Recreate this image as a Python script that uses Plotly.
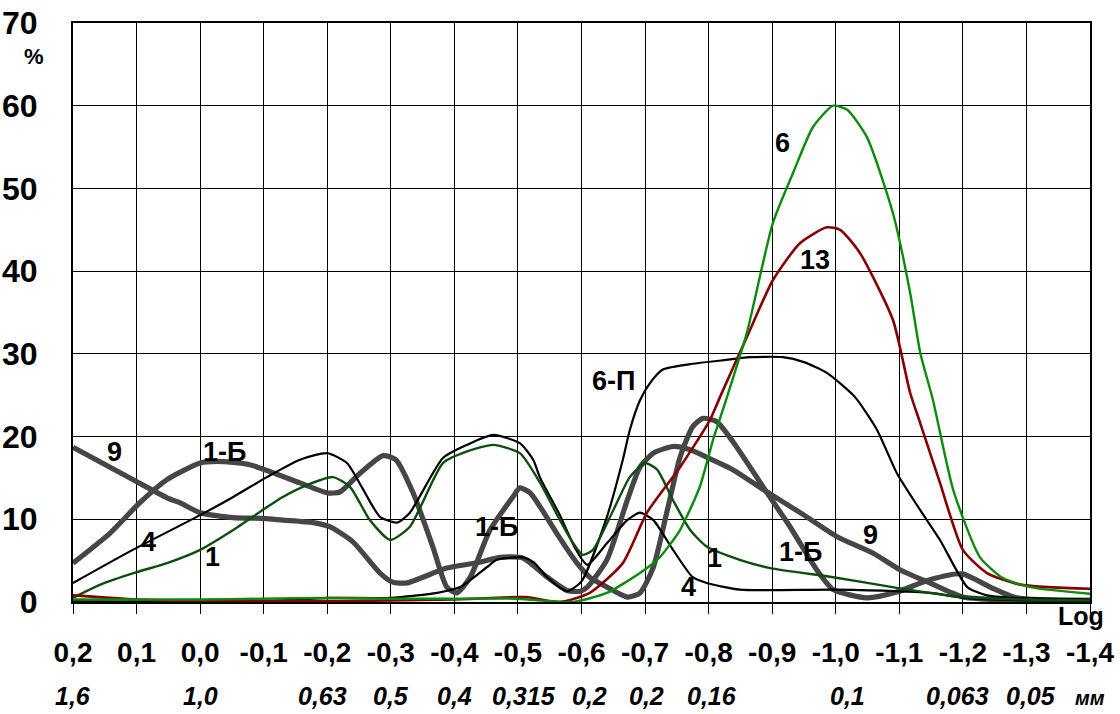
import plotly.graph_objects as go

# ---------------- data ----------------
log_ticks = [0.2, 0.1, 0.0, -0.1, -0.2, -0.3, -0.4, -0.5, -0.6, -0.7, -0.8, -0.9, -1.0, -1.1, -1.2, -1.3, -1.4]
log_labels = ["0,2", "0,1", "0,0", "-0,1", "-0,2", "-0,3", "-0,4", "-0,5", "-0,6", "-0,7", "-0,8",
              "-0,9", "-1,0", "-1,1", "-1,2", "-1,3", "-1,4"]
mm_pos = [0.2, 0.0, -0.193, -0.3, -0.4, -0.51, -0.613, -0.703, -0.805, -1.018, -1.192, -1.307]
mm_labels = ["1,6", "1,0", "0,63", "0,5", "0,4", "0,315", "0,2", "0,2", "0,16", "0,1", "0,063", "0,05"]
y_ticks = [0, 10, 20, 30, 40, 50, 60, 70]

x_9 = [0.2, 0.106, 0.052, 0.032, 0.0, -0.052, -0.1, -0.13, -0.178, -0.204, -0.24, -0.283, -0.303, -0.325,
       -0.388, -0.44, -0.472, -0.508, -0.546, -0.577, -0.598, -0.609, -0.64, -0.672, -0.692, -0.713, -0.744,
       -0.771, -0.797, -0.838, -0.892, -0.944, -1.002, -1.059, -1.101, -1.148, -1.2, -1.285, -1.4]
y_9 = [18.7, 14.8, 12.6, 12.0, 10.8, 10.2, 10.1, 9.9, 9.6, 9.1, 7.3, 3.5, 2.4, 2.3,
       4.1, 4.8, 5.4, 5.3, 3.0, 1.4, 1.3, 1.8, 5.1, 12.3, 16.3, 18.0, 18.8,
       18.4, 17.5, 16.0, 13.3, 10.8, 7.9, 5.9, 3.9, 2.3, 0.6, 0.2, 0.2]

x_1b = [0.2, 0.142, 0.095, 0.052, 0.0, -0.027, -0.078, -0.157, -0.2, -0.22, -0.252, -0.288, -0.308, -0.335,
        -0.366, -0.388, -0.404, -0.425, -0.456, -0.492, -0.503, -0.519, -0.535, -0.561, -0.593, -0.613, -0.64,
        -0.672, -0.692, -0.713, -0.735, -0.755, -0.775, -0.791, -0.813, -0.838, -0.892, -0.928, -0.97, -0.996,
        -1.049, -1.096, -1.148, -1.199, -1.243, -1.285, -1.4]
y_1b = [4.7, 8.3, 12.0, 14.8, 16.8, 17.0, 16.6, 14.4, 13.2, 13.3, 15.6, 17.7, 17.2, 13.2,
        6.7, 1.8, 1.1, 3.0, 8.7, 12.7, 13.8, 13.2, 11.5, 8.3, 4.7, 3.0, 1.8,
        0.6, 1.1, 4.2, 11.1, 17.5, 21.2, 22.2, 21.8, 19.4, 13.2, 9.1, 3.9, 1.5,
        0.5, 1.2, 2.7, 3.4, 1.8, 0.5, 0.2]

x_4 = [0.2, 0.106, 0.0, -0.052, -0.105, -0.157, -0.2, -0.231, -0.255, -0.283, -0.31, -0.33, -0.382, -0.42,
       -0.461, -0.503, -0.524, -0.535, -0.566, -0.59, -0.609, -0.64, -0.672, -0.692, -0.713, -0.744, -0.775,
       -0.797, -0.849, -1.0, -1.148, -1.2, -1.3, -1.4]
y_4 = [2.3, 6.3, 10.5, 12.7, 15.1, 17.2, 18.0, 16.8, 13.8, 10.3, 9.6, 10.8, 17.4, 19.0,
       20.2, 19.2, 17.2, 15.0, 10.5, 6.5, 4.5, 7.1, 9.9, 10.8, 9.9, 6.3, 3.0,
       2.3, 1.5, 1.5, 1.1, 0.5, 0.2, 0.2]

x_6p = [0.2, -0.1, -0.2, -0.3, -0.373, -0.409, -0.451, -0.467, -0.508, -0.525, -0.546, -0.577, -0.6, -0.64,
        -0.665, -0.676, -0.692, -0.708, -0.728, -0.775, -0.82, -0.865, -0.917, -0.95, -0.986, -1.03, -1.065,
        -1.096, -1.133, -1.164, -1.207, -1.238, -1.28, -1.4]
y_6p = [0.1, 0.1, 0.5, 0.5, 1.1, 1.8, 4.2, 5.1, 5.4, 4.8, 3.0, 1.3, 2.5, 10.3,
        17.2, 20.8, 24.4, 26.5, 28.1, 28.8, 29.2, 29.6, 29.6, 29.0, 27.7, 24.8, 20.8,
        15.6, 11.1, 7.5, 1.8, 0.8, 0.5, 0.3]

x_1 = [0.2, 0.157, 0.1, 0.052, 0.0, -0.052, -0.1, -0.13, -0.17, -0.209, -0.236, -0.267, -0.299, -0.33,
       -0.382, -0.42, -0.461, -0.503, -0.535, -0.566, -0.587, -0.602, -0.618, -0.65, -0.676, -0.70, -0.719,
       -0.744, -0.771, -0.797, -0.849, -0.897, -0.996, -1.096, -1.148, -1.2, -1.3, -1.4]
y_1 = [0.5, 2.1, 3.6, 4.7, 6.3, 8.7, 11.2, 12.7, 14.2, 15.1, 13.9, 9.9, 7.5, 9.1,
       16.8, 18.2, 19.0, 18.0, 14.4, 9.9, 7.1, 5.7, 6.3, 11.1, 15.1, 16.8, 16.0,
       12.3, 8.7, 6.7, 5.1, 4.1, 3.0, 1.7, 1.1, 0.6, 0.3, 0.2]

x_13 = [0.2, 0.1, 0.0, -0.2, -0.4, -0.499, -0.514, -0.566, -0.613, -0.665, -0.703, -0.755, -0.802, -0.818,
        -0.86, -0.901, -0.944, -0.986, -1.007, -1.038, -1.09, -1.117, -1.133, -1.164, -1.2, -1.238, -1.29, -1.4]
y_13 = [0.8, 0.3, 0.1, 0.1, 0.3, 0.6, 0.6, 0.0, 1.1, 4.7, 10.8, 16.3, 22.0, 24.8,
        32.0, 38.9, 43.4, 45.3, 45.0, 42.2, 34.1, 25.3, 21.6, 14.4, 6.3, 3.5, 2.1, 1.6]

x_6 = [0.2, 0.0, -0.1, -0.2, -0.3, -0.4, -0.5, -0.55, -0.587, -0.64, -0.692, -0.723, -0.755, -0.786,
       -0.807, -0.829, -0.86, -0.901, -0.933, -0.964, -0.996, -1.018, -1.049, -1.09, -1.117, -1.133, -1.153,
       -1.185, -1.227, -1.263, -1.306, -1.4]
y_6 = [0.3, 0.3, 0.4, 0.5, 0.4, 0.4, 0.4, 0.1, 0.0, 1.1, 3.5, 5.4, 8.7, 13.9,
       19.6, 24.8, 32.5, 45.8, 51.9, 57.4, 60.0, 59.5, 56.2, 47.0, 37.4, 30.1, 24.4,
       13.5, 5.4, 2.9, 1.8, 1.0]

# curve labels: text, x (log), y (%)
lab_text = ["9", "1-Б", "4", "1", "1-Б", "6-П", "6", "13", "1", "4", "1-Б", "9"]
lab_x = [0.134, -0.039, 0.082, -0.02, -0.467, -0.65, -0.917, -0.967, -0.81, -0.768, -0.944, -1.054]
lab_y = [18.1, 18.1, 7.3, 5.4, 9.1, 26.7, 55.5, 41.4, 5.3, 1.8, 6.0, 8.1]

# ---------------- figure ----------------
GRAY = "#464646"
BLACK = "#000000"
DKGREEN = "#0b4f0b"
GREEN = "#0a8c0a"
RED = "#870000"

series = [
    ("9", x_9, y_9, GRAY, 5.2),
    ("1-Б", x_1b, y_1b, GRAY, 5.2),
    ("4", x_4, y_4, BLACK, 2.2),
    ("6-П", x_6p, y_6p, BLACK, 2.2),
    ("1", x_1, y_1, DKGREEN, 2.4),
    ("13", x_13, y_13, RED, 2.6),
    ("6", x_6, y_6, GREEN, 2.4),
]

fig = go.Figure()
for name, xs, ys, col, w in series:
    fig.add_trace(go.Scatter(x=xs, y=ys, mode="lines", name=name,
                             line=dict(color=col, width=w, shape="spline", smoothing=0.6),
                             showlegend=False, hoverinfo="skip"))

FONT = "Liberation Sans, Arial, sans-serif"

L, R, T, B = 73, 1090, 23, 602
plot_w, plot_h = R - L, B - T

annotations = []
for t, x, y in zip(lab_text, lab_x, lab_y):
    annotations.append(dict(x=x, y=y, xref="x", yref="y", text=t, showarrow=False,
                            font=dict(family=FONT, size=27, color="black", weight="bold")))

for t, x in zip(mm_labels, mm_pos):
    annotations.append(dict(x=x, y=(B - 696) / plot_h, xref="x", yref="paper", text="<i>" + t + "</i>",
                            showarrow=False, yanchor="middle",
                            font=dict(family=FONT, size=25, color="black", weight="bold")))
annotations.append(dict(x=-1.4, y=(B - 698) / plot_h, xref="x", yref="paper", text="<i>мм</i>",
                        showarrow=False, yanchor="middle",
                        font=dict(family=FONT, size=20, color="black", weight="bold")))
annotations.append(dict(x=(1106 - L) / plot_w, y=(B - 616) / plot_h, xref="paper", yref="paper",
                        text="Log", showarrow=False, xanchor="right", yanchor="middle",
                        font=dict(family=FONT, size=25, color="black", weight="bold")))
annotations.append(dict(x=(46 - L) / plot_w, y=(B - 57) / plot_h, xref="paper", yref="paper",
                        text="%", showarrow=False, xanchor="right", yanchor="middle",
                        font=dict(family=FONT, size=22, color="black", weight="bold")))

fig.update_layout(
    width=1120, height=714,
    margin=dict(l=L, r=1120 - R, t=T, b=714 - B, pad=0),
    paper_bgcolor="white", plot_bgcolor="white",
    annotations=annotations,
    xaxis=dict(range=[0.2, -1.4], tickvals=log_ticks, ticktext=log_labels, automargin=False,
               ticks="outside", ticklen=10, tickcolor="black", tickwidth=1,
               showgrid=True, gridcolor="black", gridwidth=1,
               showline=True, mirror=True, linecolor="black", linewidth=1.5,
               zeroline=False, ticklabelstandoff=15,
               tickfont=dict(family=FONT, size=28, color="black", weight="bold")),
    yaxis=dict(range=[0, 70], tickvals=y_ticks, ticktext=[str(v) for v in y_ticks], automargin=False,
               ticks="", showgrid=True, gridcolor="black", gridwidth=1,
               showline=True, mirror=True, linecolor="black", linewidth=2,
               zeroline=False, ticklabelstandoff=27,
               tickfont=dict(family=FONT, size=32, color="black", weight="bold")),
)

fig.write_html("out.html")
